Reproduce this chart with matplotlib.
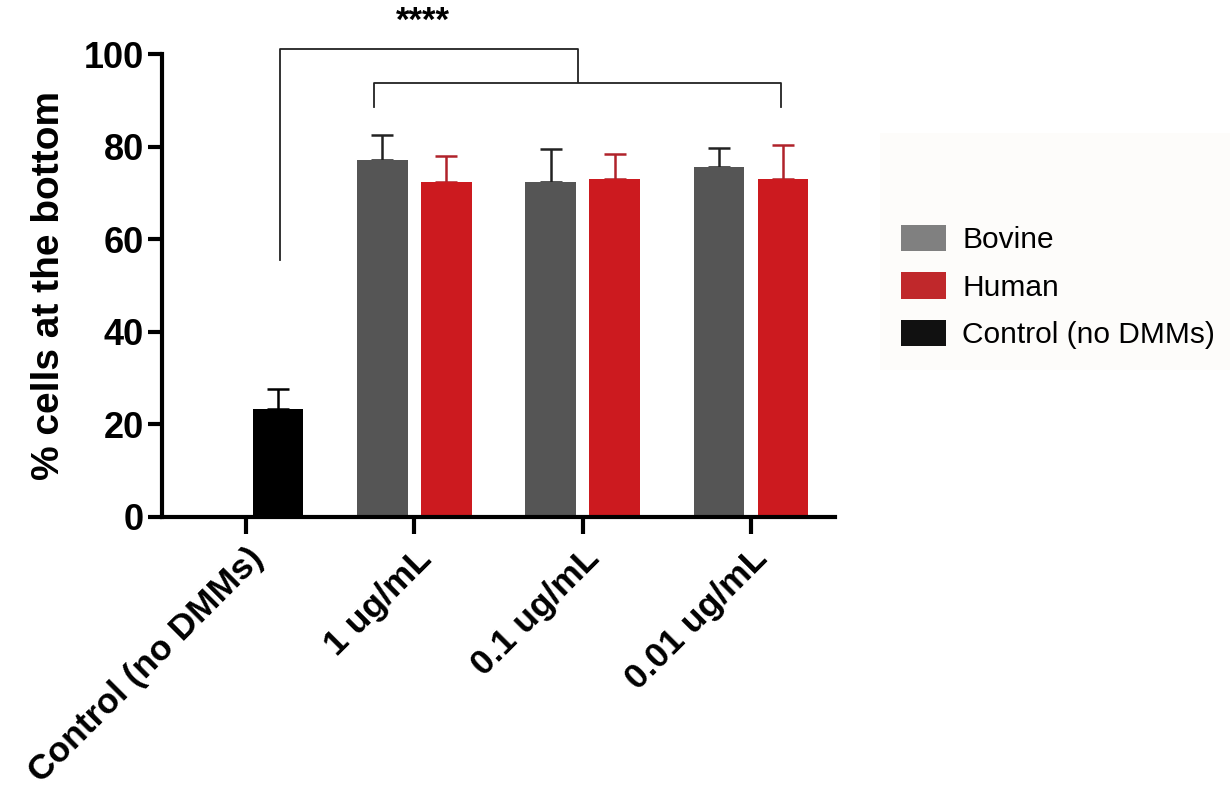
import matplotlib
matplotlib.use('Agg')
import matplotlib.pyplot as plt
from matplotlib.patches import Patch, Rectangle

plt.rcParams['font.family'] = ['Liberation Sans', 'DejaVu Sans']

# Data
groups = ['Control (no DMMs)', '1 ug/mL', '0.1 ug/mL', '0.01 ug/mL']
bovine_mean = [77.0, 72.4, 75.5]
bovine_err = [5.6, 7.1, 4.1]
human_mean = [72.4, 73.0, 73.0]
human_err = [5.6, 5.5, 7.4]
control_mean = [23.3]
control_err = [4.3]

grey = '#555555'
red = '#cc1a1f'
black = '#000000'

fig = plt.figure(figsize=(12.3, 8.01), dpi=100)
ax = fig.add_axes([162/1230, 1 - 517/801, (835 - 162)/1230, (517 - 54)/801])

# faint background behind the legend
fig.patches.append(Rectangle((880/1230, 1 - 370/801), 350/1230, 237/801,
                             transform=fig.transFigure, facecolor='#fdfcfa',
                             edgecolor='none', zorder=0))

w = 0.3
off = 0.19
dose_x = [1, 2, 3]

ax.bar([0 + off], control_mean, w, color=black, zorder=2)
ax.errorbar([0 + off], control_mean, yerr=[[0], control_err], fmt='none',
            ecolor=black, elinewidth=1.8, capsize=8, capthick=1.8, zorder=1)
ax.bar([x - off for x in dose_x], bovine_mean, w, color=grey, zorder=2)
ax.errorbar([x - off for x in dose_x], bovine_mean, yerr=[[0]*3, bovine_err], fmt='none',
            ecolor='#222222', elinewidth=1.8, capsize=8, capthick=1.8, zorder=1)
ax.bar([x + off for x in dose_x], human_mean, w, color=red, zorder=2)
ax.errorbar([x + off for x in dose_x], human_mean, yerr=[[0]*3, human_err], fmt='none',
            ecolor='#b0222a', elinewidth=1.8, capsize=8, capthick=1.8, zorder=1)

ax.set_xlim(-0.5, 3.5)
ax.set_ylim(0, 100)
ax.set_yticks([0, 20, 40, 60, 80, 100])
ax.set_xticks(range(len(groups)))
ax.set_xticklabels(groups, rotation=45, ha='right', va='top',
                   rotation_mode='anchor', fontsize=25.5, fontweight='bold')
for lab in ax.get_yticklabels():
    lab.set_fontsize(26)
    lab.set_fontweight('bold')
ax.set_ylabel('% cells at the bottom', fontsize=28, fontweight='bold', labelpad=12)

for s in ['top', 'right']:
    ax.spines[s].set_visible(False)
for s in ['left', 'bottom']:
    ax.spines[s].set_linewidth(3)
ax.tick_params(axis='y', length=10, width=3, pad=3)
ax.tick_params(axis='x', length=12, width=3, pad=6)

# significance brackets
lw = 1.3
ax.plot([0.2, 0.2, 1.97, 1.97], [55.4, 101, 101, 94], color='#222222', lw=lw, clip_on=False)
ax.plot([0.76, 0.76, 3.18, 3.18], [88.5, 93.7, 93.7, 88.5], color='#222222', lw=lw, clip_on=False)
ax.text(1.05, 107, '****', ha='center', va='center', fontsize=25, fontweight='bold', clip_on=False)

handles = [Patch(facecolor='#808080', edgecolor='none', label='Bovine'),
           Patch(facecolor='#c0282b', edgecolor='none', label='Human'),
           Patch(facecolor='#111111', edgecolor='none', label='Control (no DMMs)')]
fig.legend(handles=handles, loc='center left', bbox_to_anchor=(886/1230, 1 - 287/801),
           frameon=False, fontsize=21.5, handlelength=1.5, handleheight=1.0,
           handletextpad=0.55, labelspacing=0.6, borderpad=0)

fig.savefig('out.png', dpi=100)
